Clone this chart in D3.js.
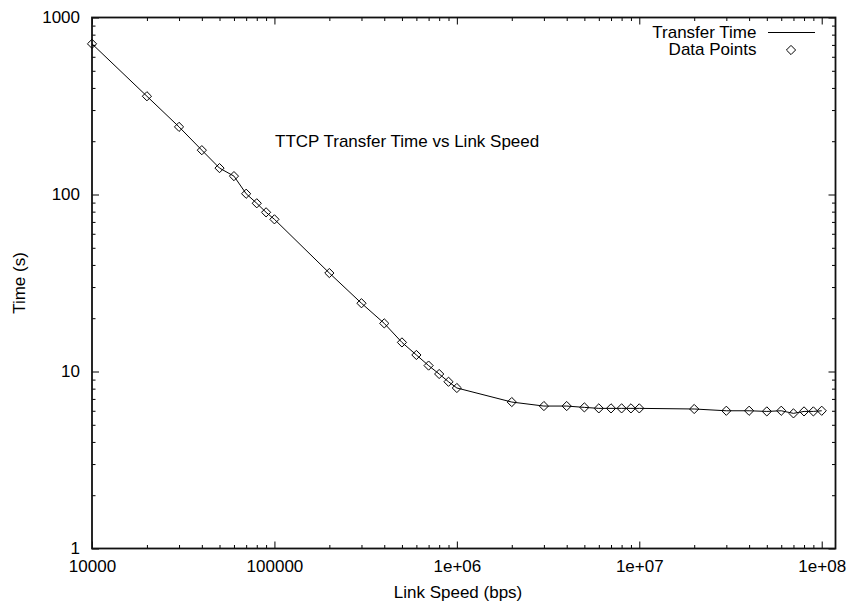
<!DOCTYPE html>
<html>
<head>
<meta charset="utf-8">
<script src="https://cdn.jsdelivr.net/npm/d3@7"></script>
<style>
  html, body { margin: 0; padding: 0; background: #fff; }
  svg { display: block; font-family: "Liberation Sans", Arial, Helvetica, sans-serif; }
</style>
</head>
<body>
<svg id="chart" width="849" height="605"></svg>
<script>
// Link speeds (bps) and measured TTCP transfer times (s)
const linkSpeeds = [
  1e4, 2e4, 3e4, 4e4, 5e4, 6e4, 7e4, 8e4, 9e4,
  1e5, 2e5, 3e5, 4e5, 5e5, 6e5, 7e5, 8e5, 9e5,
  1e6, 2e6, 3e6, 4e6, 5e6, 6e6, 7e6, 8e6, 9e6,
  1e7, 2e7, 3e7, 4e7, 5e7, 6e7, 7e7, 8e7, 9e7,
  1e8
];
const transferTimes = [
  710, 359, 241, 178, 141, 127, 101, 89.2, 79.3,
  72.4, 36.0, 24.3, 18.7, 14.6, 12.4, 10.8, 9.68, 8.75,
  8.07, 6.72, 6.38, 6.38, 6.27, 6.19, 6.19, 6.19, 6.19,
  6.19, 6.14, 6.00, 6.00, 5.95, 6.00, 5.80, 5.95, 5.95,
  6.00
];
const xTickValues = [1e4, 1e5, 1e6, 1e7, 1e8];
const xTickLabels = ["10000", "100000", "1e+06", "1e+07", "1e+08"];
const yTickValues = [1, 10, 100, 1000];
const yTickLabels = ["1", "10", "100", "1000"];

const chartTitle = "TTCP Transfer Time vs Link Speed";
const xAxisTitle = "Link Speed (bps)";
const yAxisTitle = "Time (s)";
const legendLabels = ["Transfer Time", "Data Points"];

const data = linkSpeeds.map((s, i) => ({ speed: s, time: transferTimes[i] }));

const svg = d3.select("#chart");
const plotLeft = 92, plotRight = 835.5, plotTop = 17.5, plotBottom = 548.5;
const fontSize = 17;

const x = d3.scaleLog().domain([1e4, 1.19e8]).range([plotLeft, plotRight]);
const y = d3.scaleLog().domain([1, 1000]).range([plotBottom, plotTop]);

// minor ticks at 2..9 within each decade
function minorTicks(lo, hi, domMax) {
  const out = [];
  for (let d = lo; d < hi; d *= 10) {
    for (let k = 2; k <= 9; k++) {
      const v = d * k;
      if (v <= domMax) out.push(v);
    }
  }
  return out;
}
const xMinor = minorTicks(1e4, 1e9, 1.19e8);
const yMinor = minorTicks(1, 1000, 1000);

const majorLen = 7, minorLen = 3.5;

function styleAxis(g) {
  g.select(".domain").remove();
  g.selectAll(".tick line").attr("stroke", "#000").attr("stroke-width", 1);
  g.selectAll(".tick text")
    .attr("fill", "#000")
    .attr("font-size", fontSize)
    .attr("font-family", "Liberation Sans, Arial, sans-serif");
}

// bottom axis (labels) and mirrored top ticks
svg.append("g").attr("transform", `translate(0,${plotBottom})`)
  .call(d3.axisBottom(x).tickValues(xTickValues)
    .tickFormat((d, i) => xTickLabels[i])
    .tickSizeInner(-majorLen).tickSizeOuter(0).tickPadding(11.5))
  .call(styleAxis);
svg.append("g").attr("transform", `translate(0,${plotBottom})`)
  .call(d3.axisBottom(x).tickValues(xMinor).tickFormat("")
    .tickSizeInner(-minorLen).tickSizeOuter(0))
  .call(styleAxis);
svg.append("g").attr("transform", `translate(0,${plotTop})`)
  .call(d3.axisTop(x).tickValues(xTickValues).tickFormat("")
    .tickSizeInner(-majorLen).tickSizeOuter(0))
  .call(styleAxis);
svg.append("g").attr("transform", `translate(0,${plotTop})`)
  .call(d3.axisTop(x).tickValues(xMinor).tickFormat("")
    .tickSizeInner(-minorLen).tickSizeOuter(0))
  .call(styleAxis);

// left axis (labels) and mirrored right ticks
svg.append("g").attr("transform", `translate(${plotLeft},0)`)
  .call(d3.axisLeft(y).tickValues(yTickValues)
    .tickFormat((d, i) => yTickLabels[i])
    .tickSizeInner(-majorLen).tickSizeOuter(0).tickPadding(12))
  .call(styleAxis);
svg.append("g").attr("transform", `translate(${plotLeft},0)`)
  .call(d3.axisLeft(y).tickValues(yMinor).tickFormat("")
    .tickSizeInner(-minorLen).tickSizeOuter(0))
  .call(styleAxis);
svg.append("g").attr("transform", `translate(${plotRight},0)`)
  .call(d3.axisRight(y).tickValues(yTickValues).tickFormat("")
    .tickSizeInner(-majorLen).tickSizeOuter(0))
  .call(styleAxis);
svg.append("g").attr("transform", `translate(${plotRight},0)`)
  .call(d3.axisRight(y).tickValues(yMinor).tickFormat("")
    .tickSizeInner(-minorLen).tickSizeOuter(0))
  .call(styleAxis);

// plot border
svg.append("rect")
  .attr("x", plotLeft).attr("y", plotTop)
  .attr("width", plotRight - plotLeft).attr("height", plotBottom - plotTop)
  .attr("fill", "none").attr("stroke", "#111").attr("stroke-width", 1.8);

// transfer time line
const line = d3.line().x(d => x(d.speed)).y(d => y(d.time));
svg.append("path").datum(data)
  .attr("d", line)
  .attr("fill", "none").attr("stroke", "#000").attr("stroke-width", 1);

// diamond markers
const diamond = r => `M0,${-r}L${r},0L0,${r}L${-r},0Z`;
svg.append("g").selectAll("path").data(data).join("path")
  .attr("transform", d => `translate(${x(d.speed)},${y(d.time)})`)
  .attr("d", diamond(4.6))
  .attr("fill", "none").attr("stroke", "#000").attr("stroke-width", 1);

// plot label
svg.append("text")
  .attr("x", 275).attr("y", 147)
  .attr("font-size", fontSize).attr("fill", "#000")
  .text(chartTitle);

// axis titles
svg.append("text")
  .attr("x", 458).attr("y", 598)
  .attr("text-anchor", "middle")
  .attr("font-size", fontSize).attr("fill", "#000")
  .text(xAxisTitle);
svg.append("text")
  .attr("transform", `translate(25,${(plotTop + plotBottom) / 2}) rotate(-90)`)
  .attr("text-anchor", "middle")
  .attr("font-size", fontSize).attr("fill", "#000")
  .text(yAxisTitle);

// legend
const legend = svg.append("g");
legend.append("text")
  .attr("x", 756.5).attr("y", 38)
  .attr("text-anchor", "end")
  .attr("font-size", fontSize).attr("fill", "#000")
  .text(legendLabels[0]);
legend.append("line")
  .attr("x1", 768).attr("x2", 815).attr("y1", 32.5).attr("y2", 32.5)
  .attr("stroke", "#000").attr("stroke-width", 1);
legend.append("text")
  .attr("x", 756.5).attr("y", 55)
  .attr("text-anchor", "end")
  .attr("font-size", fontSize).attr("fill", "#000")
  .text(legendLabels[1]);
legend.append("path")
  .attr("transform", "translate(791,50)")
  .attr("d", diamond(4.6))
  .attr("fill", "none").attr("stroke", "#000").attr("stroke-width", 1);
</script>
</body>
</html>
